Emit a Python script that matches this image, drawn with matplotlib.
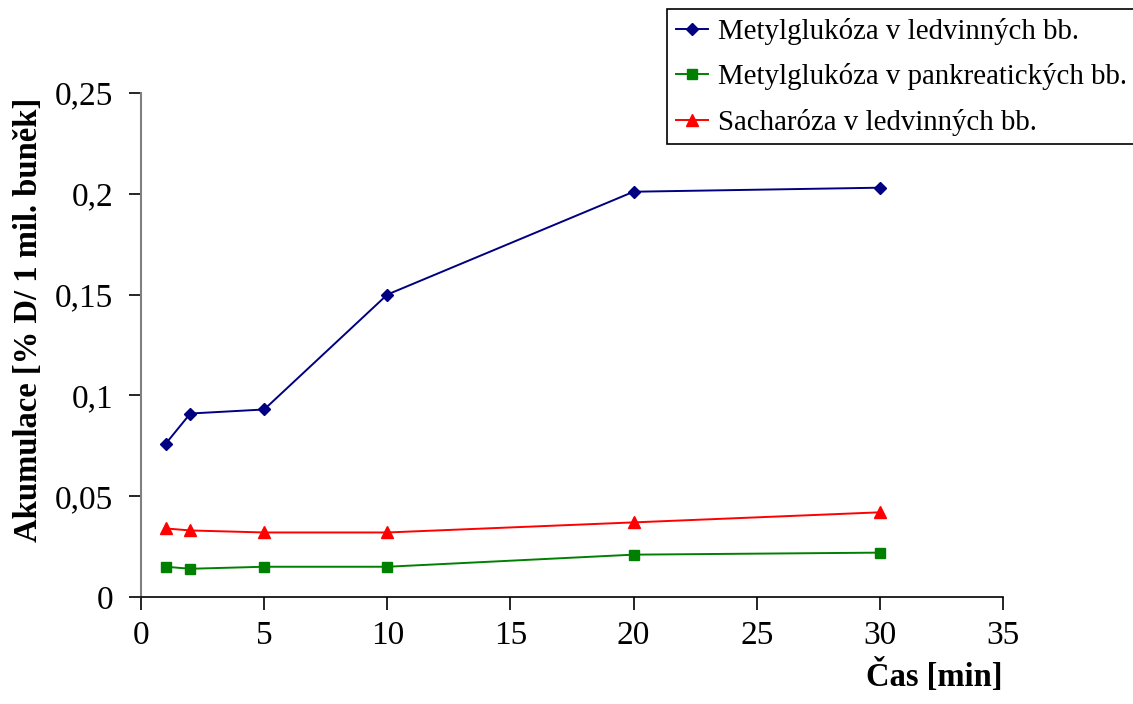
import matplotlib.pyplot as plt
from matplotlib.ticker import FuncFormatter

plt.rcParams['font.family'] = ['Liberation Serif', 'DejaVu Serif']

# time points [min]
cas = [1, 2, 5, 10, 20, 30]

# accumulation values [% D / 1 mil. cells]
metyl_ledviny = [0.076, 0.091, 0.093, 0.150, 0.201, 0.203]
metyl_pankreas = [0.015, 0.014, 0.015, 0.015, 0.021, 0.022]
sacharoza_ledviny = [0.034, 0.033, 0.032, 0.032, 0.037, 0.042]

labels = ['Metylglukóza v ledvinných bb.',
          'Metylglukóza v pankreatických bb.',
          'Sacharóza v ledvinných bb.']

fig = plt.figure(figsize=(11.33, 7.04), dpi=100)
ax = fig.add_axes([0.1245, 0.152, 0.7608, 0.716])

ax.plot(cas, metyl_ledviny, color='#000080', marker='D', markersize=6.5, linewidth=1.4, label=labels[0])
ax.plot(cas, metyl_pankreas, color='#008000', marker='s', markersize=7, linewidth=1.4, label=labels[1])
ax.plot(cas, sacharoza_ledviny, color='#ff0000', marker='^', markersize=8, linewidth=1.4, label=labels[2])

ax.set_xlim(0, 35)
ax.set_ylim(0, 0.25)
ax.set_xticks(range(0, 36, 5))
ax.set_yticks([0, 0.05, 0.1, 0.15, 0.2, 0.25])
ax.yaxis.set_major_formatter(FuncFormatter(lambda v, p: ('%g' % v).replace('.', ',')))

for s in ['top', 'right']:
    ax.spines[s].set_visible(False)
ax.spines['left'].set_color('#808080')
ax.spines['left'].set_linewidth(1.5)
ax.spines['bottom'].set_color('black')
ax.spines['bottom'].set_linewidth(1.2)

ax.tick_params(axis='both', labelsize=24, length=9, width=1.2, color='black', direction='out')
ax.tick_params(axis='y', pad=11)
ax.tick_params(axis='x', pad=8)

ax.set_ylabel('Akumulace [% D/ 1 mil. buněk]', fontsize=23.5, fontweight='bold')
ax.yaxis.set_label_coords(-0.1125, 0.55)
fig.text(0.885, 0.016, 'Čas [min]', fontsize=23.5, fontweight='bold', ha='right', va='bottom')

leg = fig.legend(loc='upper left', bbox_to_anchor=(0.589, 0.987), fontsize=20.8,
                 frameon=True, fancybox=False, edgecolor='black', framealpha=1,
                 handlelength=1.1, handletextpad=0.35, borderpad=0.3, labelspacing=0.64,
                 borderaxespad=0)
leg.get_frame().set_linewidth(1.2)

fig.savefig('out.png', dpi=100)
